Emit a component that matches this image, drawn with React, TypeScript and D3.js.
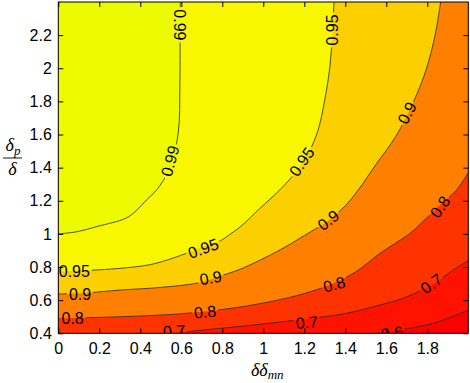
import React, { useEffect, useRef } from 'react';
import * as d3 from 'd3';

const W = 470;
const H = 383;

// contour levels and the fill colour of each band (lowest band first)
const levels = [0.6, 0.7, 0.8, 0.9, 0.95, 0.99];
const bandColors = ['#ff0000', '#ff1200', '#ff3300', '#ff8000', '#fccf00', '#f8f700', '#edfb00'];

// contour lines, [x, y] in data units
const line60 = [[1.57, 0.4], [1.667, 0.42], [1.813, 0.455], [1.9, 0.49], [2.0, 0.54]];
const line70 = [[0.51, 0.4], [0.626, 0.41], [0.79, 0.43], [0.95, 0.45], [1.163, 0.48], [1.407, 0.521],
  [1.569, 0.571], [1.667, 0.605], [1.82, 0.69], [1.925, 0.78], [2.0, 0.84]];
const line80 = [[0, 0.49], [0.3, 0.5], [0.6, 0.518], [0.85, 0.552], [1.05, 0.595], [1.2, 0.64],
  [1.34, 0.7], [1.45, 0.77], [1.57, 0.883], [1.716, 1.004], [1.8, 1.1], [1.854, 1.165],
  [1.943, 1.265], [2.0, 1.37]];
const line90 = [[0, 0.637], [0.15, 0.645], [0.3, 0.661], [0.5, 0.677], [0.69, 0.706], [0.8, 0.75],
  [0.886, 0.786], [1.081, 0.903], [1.2, 0.99], [1.309, 1.074], [1.4, 1.17], [1.463, 1.265],
  [1.55, 1.42], [1.647, 1.59], [1.73, 1.79], [1.794, 1.99], [1.838, 2.2], [1.865, 2.4]];
const line95 = [[0, 0.772], [0.15, 0.78], [0.3, 0.792], [0.45, 0.815], [0.55, 0.85], [0.65, 0.895],
  [0.72, 0.93], [0.79, 0.958], [0.84, 1.0], [0.89, 1.045], [0.98, 1.15], [1.08, 1.265],
  [1.15, 1.36], [1.21, 1.466], [1.263, 1.61], [1.3, 1.81], [1.325, 2.01], [1.337, 2.21], [1.345, 2.4]];
const line99 = [[0, 1.0], [0.09, 1.013], [0.19, 1.045], [0.33, 1.095], [0.38, 1.14], [0.43, 1.205],
  [0.48, 1.266], [0.545, 1.4], [0.585, 1.61], [0.593, 1.9], [0.594, 2.2], [0.595, 2.4]];
const contourLines = [line60, line70, line80, line90, line95, line99];

// inline contour labels: text, position (data units), rotation in degrees
const labelText = ['0.99', '0.99', '0.95', '0.95', '0.9', '0.95', '0.95', '0.9', '0.9', '0.9',
  '0.8', '0.8', '0.8', '0.8', '0.7', '0.7', '0.7', '0.6'];
const labelX = [0.594, 0.545, 1.334, 1.187, 1.70, 0.078, 0.707, 0.106, 0.743, 1.317,
  0.07, 0.716, 1.346, 1.862, 1.212, 0.565, 1.82, 1.628];
const labelY = [2.262, 1.44, 2.231, 1.436, 1.73, 0.772, 0.913, 0.637, 0.736, 1.084,
  0.49, 0.53, 0.696, 1.164, 0.466, 0.414, 0.70, 0.402];
const labelAngle = [90, -75, -90, -55, -62, 0, -20, 0, -10, -38, 0, -5, -15, -55, -5, -3, -35, -8];

const xTicks = [0, 0.2, 0.4, 0.6, 0.8, 1, 1.2, 1.4, 1.6, 1.8];
const yTicks = [0.4, 0.6, 0.8, 1, 1.2, 1.4, 1.6, 1.8, 2, 2.2];

const ContourChart = () => {
  const svgRef = useRef(null);

  useEffect(() => {
    const svg = d3.select(svgRef.current);
    svg.selectAll('*').remove();

    const margin = { top: 2, right: 1.7, bottom: 49.7, left: 58.3 };
    const width = W - margin.left - margin.right;
    const height = H - margin.top - margin.bottom;
    const [x0, x1] = [0, 2];
    const [y0, y1] = [0.4, 2.4];

    const x = d3.scaleLinear().domain([x0, x1]).range([0, width]);
    const y = d3.scaleLinear().domain([y0, y1]).range([height, 0]);

    const defs = svg.append('defs');
    defs.append('clipPath').attr('id', 'plotClip')
      .append('rect').attr('width', width).attr('height', height);

    const g = svg.append('g').attr('transform', `translate(${margin.left},${margin.top})`);
    const plot = g.append('g').attr('clip-path', 'url(#plotClip)');

    // lowest band fills the whole area
    plot.append('rect')
      .attr('width', width).attr('height', height)
      .attr('fill', bandColors[0]);

    const lineGen = d3.line<number[]>()
      .x(d => x(d[0]))
      .y(d => y(d[1]))
      .curve(d3.curveCatmullRom.alpha(0.5));

    // position along the border, going up the left side, across the top, down the right, back along the bottom
    const eps = 1e-6;
    const perim = (p: number[]) => {
      if (p[0] <= x0 + eps) return (p[1] - y0) / (y1 - y0);
      if (p[1] >= y1 - eps) return 1 + (p[0] - x0) / (x1 - x0);
      if (p[0] >= x1 - eps) return 2 + (y1 - p[1]) / (y1 - y0);
      return 3 + (x1 - p[0]) / (x1 - x0);
    };
    const corners = [[x0, y0], [x0, y1], [x1, y1], [x1, y0]];

    // region above each level = contour line closed round the top-left of the border
    contourLines.forEach((pts, i) => {
      const tS = perim(pts[0]);
      const tE = perim(pts[pts.length - 1]);
      const tS2 = tS <= tE ? tS : tS - 4;
      let closing = '';
      for (let k = Math.floor(tE); k > tS2; k--) {
        if (k === tE) continue;
        const c = corners[((k % 4) + 4) % 4];
        closing += `L${x(c[0])},${y(c[1])}`;
      }
      plot.append('path')
        .attr('d', lineGen(pts) + closing + 'Z')
        .attr('fill', bandColors[i + 1]);
    });

    // labels first, so their size can cut gaps in the lines
    const labels = plot.append('g')
      .style('font-family', '"Liberation Sans", Arial, sans-serif')
      .style('font-size', '16px');
    const labelNodes = labelText.map((t, i) => labels.append('text')
      .attr('transform', `translate(${x(labelX[i])},${y(labelY[i])}) rotate(${labelAngle[i]})`)
      .attr('text-anchor', 'middle')
      .attr('dy', '0.36em')
      .attr('fill', '#000')
      .text(t));

    const mask = defs.append('mask').attr('id', 'labelGaps')
      .attr('maskUnits', 'userSpaceOnUse')
      .attr('x', -10).attr('y', -10).attr('width', width + 20).attr('height', height + 20);
    mask.append('rect')
      .attr('x', -10).attr('y', -10).attr('width', width + 20).attr('height', height + 20)
      .attr('fill', '#fff');
    labelNodes.forEach((node, i) => {
      const len = (node.node() as SVGTextElement).getComputedTextLength();
      mask.append('rect')
        .attr('transform', `translate(${x(labelX[i])},${y(labelY[i])}) rotate(${labelAngle[i]})`)
        .attr('x', -len / 2 - 2).attr('y', -7)
        .attr('width', len + 4).attr('height', 14)
        .attr('fill', '#000');
    });

    plot.append('g')
      .attr('mask', 'url(#labelGaps)')
      .selectAll('path')
      .data(contourLines)
      .enter()
      .append('path')
      .attr('d', d => lineGen(d))
      .attr('fill', 'none')
      .attr('stroke', '#2a2a2a')
      .attr('stroke-width', 0.8);

    labels.raise();

    // axes with inward ticks on all four sides
    const styleAxis = (sel) => {
      sel.select('.domain').remove();
      sel.selectAll('line').attr('stroke', '#000');
      sel.selectAll('text')
        .attr('fill', '#000')
        .style('font-family', '"Liberation Sans", Arial, sans-serif')
        .style('font-size', '16px');
    };

    g.append('g')
      .attr('transform', `translate(0,${height})`)
      .call(d3.axisBottom(x).tickValues(xTicks).tickSizeInner(-5).tickSizeOuter(0).tickPadding(9)
        .tickFormat(d3.format('~g')))
      .call(styleAxis);
    g.append('g')
      .call(d3.axisTop(x).tickValues(xTicks).tickSizeInner(-5).tickSizeOuter(0).tickFormat(() => ''))
      .call(styleAxis);
    g.append('g')
      .call(d3.axisLeft(y).tickValues(yTicks).tickSizeInner(-5).tickSizeOuter(0).tickPadding(6.5)
        .tickFormat(d3.format('~g')))
      .call(styleAxis);
    g.append('g')
      .attr('transform', `translate(${width},0)`)
      .call(d3.axisRight(y).tickValues(yTicks).tickSizeInner(-5).tickSizeOuter(0).tickFormat(() => ''))
      .call(styleAxis);

    g.append('rect')
      .attr('width', width).attr('height', height)
      .attr('fill', 'none')
      .attr('stroke', '#000')
      .attr('stroke-width', 1);

    // x label: δδ_mn
    const xl = svg.append('text')
      .attr('x', margin.left + width / 2 + 4)
      .attr('y', 376)
      .attr('text-anchor', 'middle')
      .style('font-family', '"Liberation Serif", "Times New Roman", serif')
      .style('font-style', 'italic')
      .style('font-size', '18px')
      .attr('fill', '#000');
    xl.append('tspan').text('δδ');
    xl.append('tspan').attr('dy', 3).style('font-size', '13px').text('mn');

    // y label: fraction δ_p / δ
    const yl = svg.append('g')
      .style('font-family', '"Liberation Serif", "Times New Roman", serif')
      .style('font-style', 'italic')
      .attr('fill', '#000');
    const num = yl.append('text')
      .attr('x', 13).attr('y', 151)
      .attr('text-anchor', 'middle')
      .style('font-size', '18px');
    num.append('tspan').text('δ');
    num.append('tspan').attr('dy', 4).style('font-size', '13px').text('p');
    yl.append('line')
      .attr('x1', 3).attr('x2', 22)
      .attr('y1', 158).attr('y2', 158)
      .attr('stroke', '#000').attr('stroke-width', 0.9);
    yl.append('text')
      .attr('x', 12.5).attr('y', 175)
      .attr('text-anchor', 'middle')
      .style('font-size', '18px')
      .text('δ');
  }, []);

  return (
    <svg ref={svgRef} width={W} height={H} viewBox={`0 0 ${W} ${H}`}
      style={{ position: 'fixed', left: 0, top: 0, background: '#fff' }} />
  );
};

export default function App() {
  return <ContourChart />;
}
